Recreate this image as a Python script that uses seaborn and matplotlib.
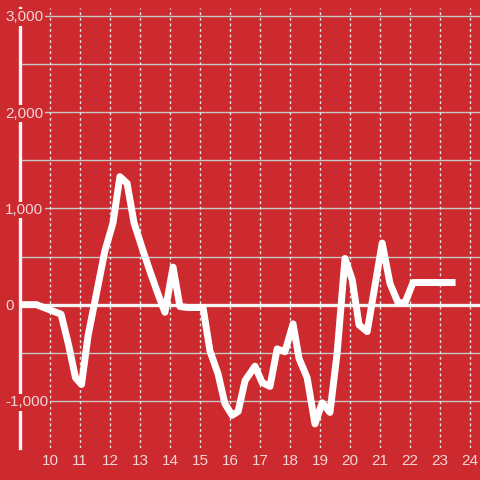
import matplotlib
matplotlib.use("Agg")
import matplotlib.pyplot as plt
import seaborn as sns
import numpy as np
from matplotlib.ticker import MultipleLocator, FuncFormatter

# data
hours = [9.0, 9.55, 10.37, 10.62, 10.85, 11.05, 11.27, 11.5, 11.83, 12.1, 12.33, 12.57,
         12.8, 13.1, 13.35, 13.6, 13.83, 14.1, 14.33, 14.6, 15.1, 15.33, 15.6, 15.83,
         16.07, 16.27, 16.5, 16.83, 17.07, 17.33, 17.57, 17.83, 18.1, 18.3, 18.57,
         18.83, 19.07, 19.33, 19.57, 19.83, 20.07, 20.3, 20.57, 21.07, 21.33, 21.6,
         21.83, 22.1, 22.6, 23.4]
values = [0, 0, -100, -420, -760, -830, -320, 40, 560, 850, 1330, 1260,
          850, 560, 330, 110, -80, 390, -20, -30, -30, -480, -720, -1030,
          -1150, -1110, -790, -640, -810, -850, -460, -490, -200, -560, -760,
          -1240, -1020, -1120, -500, 480, 260, -210, -280, 640, 220, 20,
          20, 230, 230, 230]
x_ticks = list(range(10, 25))
y_ticks = [-1000, 0, 1000, 2000, 3000]

RED = "#CC2A2E"
LABEL = "#F2D6D6"

fig = plt.figure(figsize=(4.8, 4.8), dpi=100, facecolor=RED)
ax = fig.add_axes([20/480, 32/480, 460/480, 440/480])
ax.set_facecolor(RED)

sns.lineplot(x=hours, y=values, ax=ax, color="white", lw=5, sort=False,
             estimator=None, solid_joinstyle="round", zorder=20)

ax.set_xlim(9, 24.33)
ax.set_ylim(-1490, 3083)

ax.set_xticks(x_ticks)
ax.set_yticks(y_ticks)
ax.yaxis.set_minor_locator(MultipleLocator(500))
ax.yaxis.set_minor_formatter(FuncFormatter(lambda v, p: ""))
ax.yaxis.set_major_formatter(FuncFormatter(lambda v, p: f"{int(v):,}"))

ax.grid(False)
for yv in np.arange(-1000, 3001, 500):
    if yv == 0:
        continue
    ax.axhline(yv, color="#C8C8C8", lw=1, zorder=1)
for xv in x_ticks:
    ax.axvline(xv, color="#E6E6E6", lw=1, ls=(0, (2, 2)), zorder=1)
ax.axhline(0, color="#F4F4F4", lw=2.4, zorder=2)

for s in ["top", "right", "bottom"]:
    ax.spines[s].set_visible(False)
ax.spines["left"].set_color("#F4F4F4")
ax.spines["left"].set_linewidth(2.4)
ax.spines["left"].set_zorder(3)

ax.tick_params(axis="x", length=0, pad=4, labelsize=11, labelcolor=LABEL)
ax.tick_params(axis="y", which="major", length=0, pad=10.8, labelsize=11, labelcolor=LABEL)
ax.tick_params(axis="y", which="minor", length=0)
ax.set_xlabel("")
ax.set_ylabel("")

fig.canvas.draw()
for t in ax.xaxis.get_major_ticks():
    t.label1.set_fontfamily("Liberation Sans")
for t in ax.yaxis.get_major_ticks():
    t.label1.set_fontfamily("Liberation Sans")
    t.label1.set_fontsize(11)
    t.label1.set_horizontalalignment("left")
    t.label1.set_bbox(dict(facecolor=RED, edgecolor="none", pad=1.0))
ax.yaxis.set_zorder(10)

fig.savefig("out.png", dpi=100, facecolor=RED)
